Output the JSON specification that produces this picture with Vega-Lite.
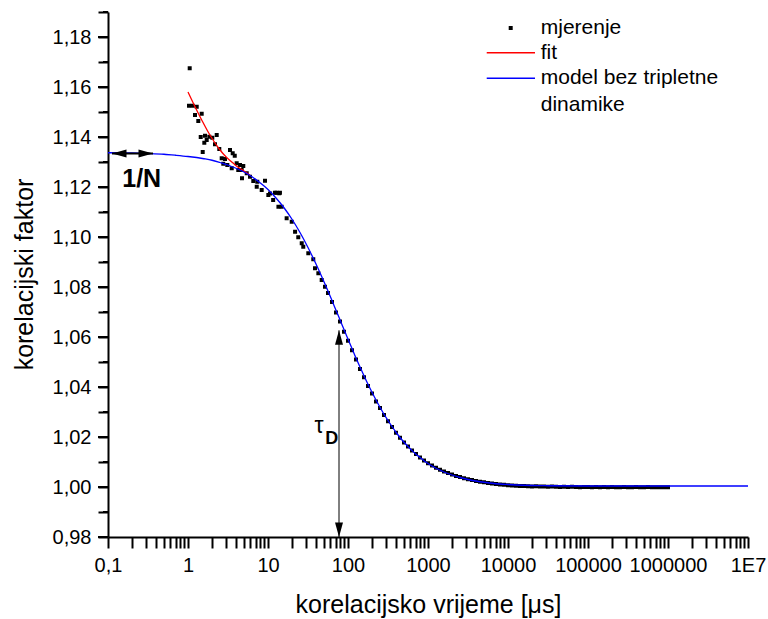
{
  "$schema": "https://vega.github.io/schema/vega-lite/v6.json",
  "width": 640,
  "height": 525,
  "autosize": {"type": "none"},
  "padding": {"left": 108, "top": 12, "right": 20, "bottom": 82},
  "background": "white",
  "config": {
    "view": {"stroke": null},
    "axis": {
      "domainColor": "black", "domainWidth": 2, "tickColor": "black", "tickWidth": 2, "tickOpacity": 1, "ticks": true,
      "labelColor": "black", "labelFont": "Liberation Sans", "labelFontSize": 20,
      "titleFont": "Liberation Sans", "titleFontSize": 25, "titleFontWeight": "normal", "titleColor": "black",
      "grid": false, "labelFlush": false, "labelOverlap": false
    }
  },
  "datasets": {
    "meas": [
      {"t":1.03,"g":1.1525},{"t":1.05,"g":1.1675},{"t":1.145,"g":1.1525},{"t":1.223,"g":1.1488},{"t":1.285,"g":1.1521},{"t":1.345,"g":1.1464},{"t":1.442,"g":1.14},{"t":1.483,"g":1.1493},{"t":1.527,"g":1.134},{"t":1.599,"g":1.1377},{"t":1.631,"g":1.1405},{"t":1.713,"g":1.1388},{"t":1.846,"g":1.1401},{"t":2.013,"g":1.1397},{"t":2.175,"g":1.1371},{"t":2.285,"g":1.1408},{"t":2.461,"g":1.1352},{"t":2.637,"g":1.1315},{"t":2.761,"g":1.1293},{"t":2.9,"g":1.1312},{"t":3.1,"g":1.1288},{"t":3.35,"g":1.1348},{"t":3.52,"g":1.1275},{"t":3.62,"g":1.1335},{"t":3.84,"g":1.1325},{"t":4.06,"g":1.1295},{"t":4.25,"g":1.1268},{"t":4.47,"g":1.1288},{"t":4.69,"g":1.1268},{"t":4.73,"g":1.1235},{"t":4.91,"g":1.1284},{"t":5.42,"g":1.1255},{"t":5.96,"g":1.1241},{"t":6.55,"g":1.1224},{"t":7.23,"g":1.1201},{"t":7.35,"g":1.1221},{"t":8.34,"g":1.1188},{"t":9.17,"g":1.1225},{"t":10.1,"g":1.1168},{"t":10.6,"g":1.1174},{"t":11.6,"g":1.1148},{"t":12.2,"g":1.1177},{"t":12.8,"g":1.1177},{"t":13.5,"g":1.1121},{"t":13.8,"g":1.1175},{"t":14.1,"g":1.1177},{"t":14.8,"g":1.1121},{"t":17.1,"g":1.1075},{"t":19.8,"g":1.1061},{"t":21.8,"g":1.1021},{"t":23.9,"g":1.0999},{"t":26.4,"g":1.0975},{"t":27.6,"g":1.0961},{"t":31.9,"g":1.0935},{"t":36.8,"g":1.0911},{"t":38.7,"g":1.0875},{"t":42.6,"g":1.0855},{"t":46.9,"g":1.0828},{"t":51.6,"g":1.0801},
      {"t":56.23,"g":1.0776},{"t":63.1,"g":1.074},{"t":70.79,"g":1.0698},{"t":79.43,"g":1.0662},{"t":89.13,"g":1.0621},{"t":100,"g":1.0585},{"t":112.2,"g":1.0547},{"t":125.9,"g":1.051},{"t":141.3,"g":1.0472},{"t":158.5,"g":1.0439},{"t":177.8,"g":1.0404},{"t":199.5,"g":1.0374},{"t":223.9,"g":1.0342},{"t":251.2,"g":1.0316},{"t":281.8,"g":1.0288},{"t":316.2,"g":1.0263},{"t":354.8,"g":1.024},{"t":398.1,"g":1.0217},{"t":446.7,"g":1.0197},{"t":501.2,"g":1.0178},{"t":562.3,"g":1.0162},{"t":631,"g":1.0146},{"t":707.9,"g":1.0132},{"t":794.3,"g":1.0118},{"t":891.3,"g":1.0106},{"t":1000,"g":1.0095},{"t":1122,"g":1.0086},{"t":1259,"g":1.0077},{"t":1413,"g":1.0069},{"t":1585,"g":1.0062},{"t":1778,"g":1.0056},{"t":1995,"g":1.005},{"t":2239,"g":1.0044},{"t":2512,"g":1.004},{"t":2818,"g":1.0035},{"t":3162,"g":1.0031},{"t":3548,"g":1.0028},{"t":3981,"g":1.0024},{"t":4467,"g":1.0021},{"t":5012,"g":1.0019},{"t":5623,"g":1.0016},{"t":6310,"g":1.0014},{"t":7079,"g":1.0012},{"t":7943,"g":1.001},{"t":8913,"g":1.0009},{"t":10000,"g":1.0007},{"t":11220,"g":1.0006},{"t":12590,"g":1.0005},{"t":14130,"g":1.0004},{"t":15850,"g":1.0004},{"t":17780,"g":1.0003},{"t":19950,"g":1.0002},{"t":22390,"g":1.0003},{"t":25120,"g":1.0002},{"t":28180,"g":1.0002},{"t":31620,"g":1.0001},{"t":35480,"g":1.0002},{"t":39810,"g":1.0001},{"t":44670,"g":1.0},{"t":50120,"g":1.0001},{"t":56230,"g":1.0},{"t":63100,"g":1.0001},{"t":70790,"g":1.0},{"t":79430,"g":0.9999},{"t":89130,"g":1.0},{"t":100000,"g":1.0},{"t":112200,"g":0.9999},{"t":125900,"g":1.0},{"t":141300,"g":0.9999},{"t":158500,"g":1.0},{"t":177800,"g":0.9999},{"t":199500,"g":1.0},{"t":223900,"g":0.9999},{"t":251200,"g":0.9999},{"t":281800,"g":1.0},{"t":316200,"g":0.9999},{"t":354800,"g":0.9999},{"t":398100,"g":1.0},{"t":446700,"g":0.9999},{"t":501200,"g":0.9999},{"t":562300,"g":1.0},{"t":631000,"g":0.9999},{"t":707900,"g":0.9999},{"t":794300,"g":0.9999},{"t":891300,"g":0.9999},{"t":1000000,"g":0.9999}
    ],
    "fit": [
      {"t":1,"g":1.158},{"t":1.25,"g":1.1515},{"t":1.5,"g":1.1465},{"t":1.75,"g":1.1425},{"t":2,"g":1.1394},{"t":2.5,"g":1.1349},{"t":3,"g":1.132},{"t":3.5,"g":1.1301},{"t":4,"g":1.1285},{"t":5,"g":1.1264},{"t":6,"g":1.1246}
    ],
    "model": [
      {"t":0.1,"g":1.1337},{"t":0.2,"g":1.1336},{"t":0.316,"g":1.1334},{"t":0.5,"g":1.1331},{"t":0.7,"g":1.1327},{"t":1,"g":1.1322},{"t":1.585,"g":1.1313},{"t":1.995,"g":1.1307},{"t":2.512,"g":1.1298},{"t":3.162,"g":1.1288},{"t":3.981,"g":1.1275},{"t":5.012,"g":1.126},{"t":6.31,"g":1.1241},{"t":7.943,"g":1.1217},{"t":10,"g":1.119},{"t":12.59,"g":1.1156},{"t":15.85,"g":1.1117},{"t":19.95,"g":1.1071},{"t":25.12,"g":1.1018},{"t":31.62,"g":1.0958},{"t":39.81,"g":1.0892},{"t":50.12,"g":1.0821},{"t":56.23,"g":1.0784},{"t":63.1,"g":1.0746},{"t":70.79,"g":1.0707},{"t":79.43,"g":1.0669},{"t":89.13,"g":1.063},{"t":100,"g":1.0592},{"t":112.2,"g":1.0554},{"t":125.9,"g":1.0516},{"t":141.3,"g":1.048},{"t":158.5,"g":1.0445},{"t":177.8,"g":1.0411},{"t":199.5,"g":1.0379},{"t":223.9,"g":1.0348},{"t":251.2,"g":1.0319},{"t":281.8,"g":1.0291},{"t":316.2,"g":1.0266},{"t":354.8,"g":1.0242},{"t":398.1,"g":1.0219},{"t":446.7,"g":1.0198},{"t":501.2,"g":1.0179},{"t":562.3,"g":1.0162},{"t":631,"g":1.0146},{"t":707.9,"g":1.0131},{"t":794.3,"g":1.0118},{"t":891.3,"g":1.0105},{"t":1000,"g":1.0094},{"t":1259,"g":1.0075},{"t":1585,"g":1.006},{"t":1995,"g":1.0048},{"t":2512,"g":1.0038},{"t":3162,"g":1.003},{"t":3981,"g":1.0024},{"t":5012,"g":1.0019},{"t":6310,"g":1.0015},{"t":7943,"g":1.0012},{"t":10000,"g":1.001},{"t":15850,"g":1.0007},{"t":19950,"g":1.0006},{"t":31620,"g":1.0005},{"t":100000,"g":1.0004},{"t":1000000,"g":1.0004},{"t":10000000,"g":1.0004}
    ],
    "yMajor": [{"t":0.1,"g":0.98},{"t":0.1,"g":1.0},{"t":0.1,"g":1.02},{"t":0.1,"g":1.04},{"t":0.1,"g":1.06},{"t":0.1,"g":1.08},{"t":0.1,"g":1.1},{"t":0.1,"g":1.12},{"t":0.1,"g":1.14},{"t":0.1,"g":1.16},{"t":0.1,"g":1.18}],
    "yMinor": [{"t":0.1,"g":0.99},{"t":0.1,"g":1.01},{"t":0.1,"g":1.03},{"t":0.1,"g":1.05},{"t":0.1,"g":1.07},{"t":0.1,"g":1.09},{"t":0.1,"g":1.11},{"t":0.1,"g":1.13},{"t":0.1,"g":1.15},{"t":0.1,"g":1.17},{"t":0.1,"g":1.19}],
    "arrowH": [{"t":0.1122,"t2":0.365,"g":1.1334}],
    "arrowV": [{"t":77.2,"g":0.98,"g2":1.0627}],
    "heads": [
      {"t":0.1122,"g":1.1334,"dir":"left"},{"t":0.365,"g":1.1334,"dir":"right"},
      {"t":77.2,"g":1.0627,"dir":"up"},{"t":77.2,"g":0.98,"dir":"down"}
    ],
    "labelN": [{"t":0.2636,"g":1.1234,"label":"1/N"}],
    "labelTau": [{"t":43.4,"g":1.0243,"label":"τ"}],
    "labelD": [{"t":62.5,"g":1.0191,"label":"D"}],
    "legSym": [{"t":10810,"g":1.1836}],
    "legRed": [{"t":5420,"t2":21750,"g":1.1737}],
    "legBlue": [{"t":5420,"t2":21750,"g":1.1635}],
    "legText": [
      {"t":25650,"g":1.1836,"label":"mjerenje"},
      {"t":25650,"g":1.1737,"label":"fit"},
      {"t":25650,"g":1.1635,"label":"model bez tripletne"},
      {"t":25650,"g":1.1528,"label":"dinamike"}
    ]
  },
  "encoding": {
    "x": {"field": "t", "type": "quantitative", "scale": {"type": "log", "domain": [0.1, 10000000], "nice": false},
      "axis": {"orient": "bottom",
        "values": [0.1,0.2,0.3,0.4,0.5,0.6,0.7,0.8,0.9,1,2,3,4,5,6,7,8,9,10,20,30,40,50,60,70,80,90,100,200,300,400,500,600,700,800,900,1000,2000,3000,4000,5000,6000,7000,8000,9000,10000,20000,30000,40000,50000,60000,70000,80000,90000,100000,200000,300000,400000,500000,600000,700000,800000,900000,1000000,2000000,3000000,4000000,5000000,6000000,7000000,8000000,9000000,10000000],
        "tickSize": 11,
        "labelPadding": 7,
        "labelExpr": "abs(log(datum.value)/LN10 - round(log(datum.value)/LN10)) > 0.01 ? '' : (datum.value < 0.5 ? '0,1' : (datum.value > 5000000 ? '1E7' : format(datum.value, 'd')))",
        "encode": {"ticks": {"update": {"y": {"value": 0}, "y2": {"signal": "abs(log(datum.value)/LN10 - round(log(datum.value)/LN10)) < 0.01 ? 11 : 5"}}}},
        "title": "korelacijsko vrijeme [μs]", "titleX": 320, "titleY": 67, "titleBaseline": "middle", "titleAlign": "center"}},
    "y": {"field": "g", "type": "quantitative", "scale": {"domain": [0.98, 1.19], "nice": false, "zero": false},
      "axis": {"orient": "left",
        "values": [0.98,0.99,1.0,1.01,1.02,1.03,1.04,1.05,1.06,1.07,1.08,1.09,1.1,1.11,1.12,1.13,1.14,1.15,1.16,1.17,1.18,1.19],
        "tickSize": 10,
        "labelPadding": 7,
        "labelExpr": "abs(datum.value*50 - round(datum.value*50)) > 0.01 ? '' : replace(format(datum.value, '.2f'), '.', ',')",
        "encode": {"ticks": {"update": {"x2": {"value": 0}, "x": {"signal": "abs(datum.value*50 - round(datum.value*50)) < 0.01 ? -10 : -5"}}}},
        "title": "korelacijski faktor", "titleX": -84, "titleY": 262, "titleBaseline": "middle", "titleAlign": "center", "titleAngle": -90}}
  },
  "layer": [
    {
      "data": {"name": "meas"},
      "mark": {"type": "square", "size": 16, "color": "black", "opacity": 1}
    },
    {
      "data": {"name": "yMajor"},
      "mark": {"type": "rule", "color": "black", "strokeWidth": 2, "x2Offset": -10},
      "encoding": {"x2": {"field": "t"}}
    },
    {
      "data": {"name": "yMinor"},
      "mark": {"type": "rule", "color": "black", "strokeWidth": 2, "x2Offset": -5},
      "encoding": {"x2": {"field": "t"}}
    },
    {
      "data": {"name": "fit"},
      "mark": {"type": "line", "color": "#ff0000", "strokeWidth": 1.3, "interpolate": "monotone"},
      "encoding": {}
    },
    {
      "data": {"name": "model"},
      "mark": {"type": "line", "color": "#0000ff", "strokeWidth": 1.3, "interpolate": "monotone"},
      "encoding": {}
    },
    {
      "data": {"name": "arrowH"},
      "mark": {"type": "rule", "color": "black", "strokeWidth": 2},
      "encoding": {"x2": {"field": "t2"}}
    },
    {
      "data": {"name": "arrowV"},
      "mark": {"type": "rule", "color": "black", "strokeWidth": 1},
      "encoding": {"y2": {"field": "g2"}}
    },
    {
      "data": {"name": "heads"},
      "mark": {"type": "point", "filled": true, "color": "black", "opacity": 1, "size": 210, "strokeWidth": 0},
      "encoding": {
        "shape": {"field": "dir", "type": "nominal", "legend": null,
          "scale": {"domain": ["left", "right", "up", "down"],
            "range": ["M0,0L2,-0.55L2,0.55Z", "M0,0L-2,-0.55L-2,0.55Z", "M0,0L-0.55,2L0.55,2Z", "M0,0L-0.55,-2L0.55,-2Z"]}}
      }
    },
    {
      "data": {"name": "labelN"},
      "mark": {"type": "text", "font": "Liberation Sans", "fontSize": 25, "fontWeight": "bold", "color": "black", "align": "center", "baseline": "middle"},
      "encoding": {"text": {"field": "label"}}
    },
    {
      "data": {"name": "labelTau"},
      "mark": {"type": "text", "font": "Liberation Sans", "fontSize": 23, "color": "black", "align": "center", "baseline": "middle"},
      "encoding": {"text": {"field": "label"}}
    },
    {
      "data": {"name": "labelD"},
      "mark": {"type": "text", "font": "Liberation Sans", "fontSize": 18, "fontWeight": "bold", "color": "black", "align": "center", "baseline": "middle"},
      "encoding": {"text": {"field": "label"}}
    },
    {
      "data": {"name": "legSym"},
      "mark": {"type": "square", "size": 16, "color": "black", "opacity": 1}
    },
    {
      "data": {"name": "legRed"},
      "mark": {"type": "rule", "color": "#ff0000", "strokeWidth": 1.3},
      "encoding": {"x2": {"field": "t2"}}
    },
    {
      "data": {"name": "legBlue"},
      "mark": {"type": "rule", "color": "#0000ff", "strokeWidth": 1.3},
      "encoding": {"x2": {"field": "t2"}}
    },
    {
      "data": {"name": "legText"},
      "mark": {"type": "text", "font": "Liberation Sans", "fontSize": 21, "color": "black", "align": "left", "baseline": "middle"},
      "encoding": {"text": {"field": "label"}}
    }
  ]
}
